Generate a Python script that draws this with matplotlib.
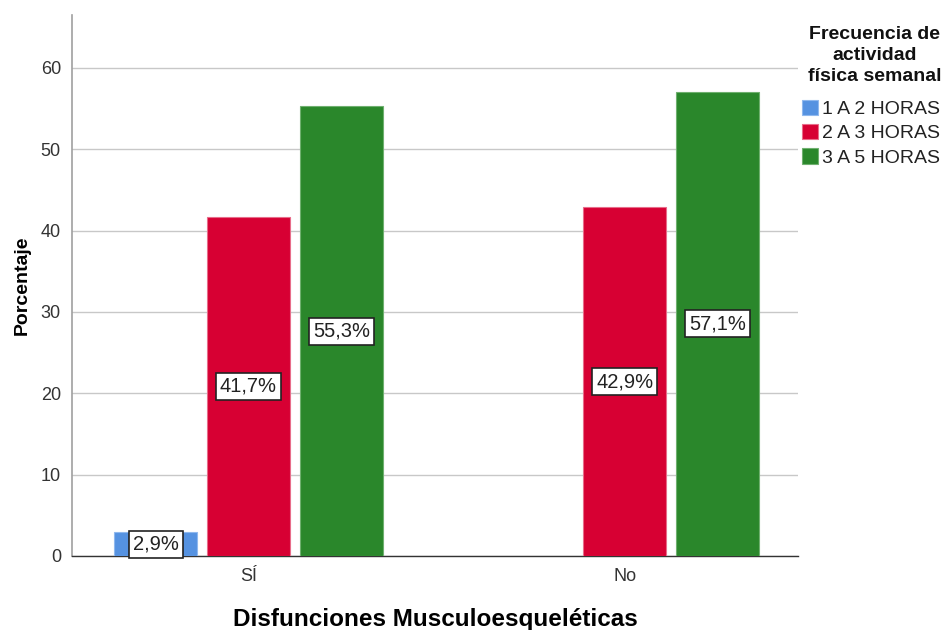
import matplotlib
matplotlib.use("Agg")
import matplotlib.pyplot as plt
from matplotlib.patches import Patch
import numpy as np

plt.rcParams['font.family'] = ['Liberation Sans', 'DejaVu Sans']

categories = ["SÍ", "No"]
series_names = ["1 A 2 HORAS", "2 A 3 HORAS", "3 A 5 HORAS"]
values = {
    "1 A 2 HORAS": [2.9, None],
    "2 A 3 HORAS": [41.7, 42.9],
    "3 A 5 HORAS": [55.3, 57.1],
}
legend_title = "Frecuencia de\nactividad\nfísica semanal"
colors = ["#5592e1", "#d70033", "#2a872b"]
edges = ["#8fb8ee", "#e86d8a", "#6fb06f"]

fig = plt.figure(figsize=(9.49, 6.30), dpi=100)
ax = fig.add_axes([0.0759, 0.1175, 0.765, 0.8585])

x = np.arange(len(categories))
step = 0.247
width = 0.221
for i, name in enumerate(series_names):
    for j, v in enumerate(values[name]):
        if v is None:
            continue
        xc = x[j] + (i - 1) * step
        ax.bar(xc, v, width=width, color=colors[i], edgecolor=edges[i],
               linewidth=0.8, zorder=3)
        ax.text(xc, v / 2, f"{v:.1f}%".replace(".", ","), ha="center", va="center",
                fontsize=14.5, color="#222222", zorder=4,
                bbox=dict(boxstyle="square,pad=0.2", fc="white", ec="#222222", lw=1.2))

ax.set_xlim(-0.469, 1.461)
ax.set_ylim(0, 66.5)
ax.set_yticks(range(0, 61, 10))
ax.set_xticks(x)
ax.set_xticklabels(categories)
ax.tick_params(axis="both", length=0, labelsize=13, colors="#333333", pad=8)
ax.tick_params(axis="x", pad=9)
ax.yaxis.grid(True, color="#c8c8c8", linewidth=1.0, zorder=0)
ax.set_axisbelow(True)
for s in ["top", "right"]:
    ax.spines[s].set_visible(False)
ax.spines["left"].set_color("#a0a0a0")
ax.spines["left"].set_linewidth(1.2)
ax.spines["bottom"].set_color("#333333")
ax.spines["bottom"].set_linewidth(1.0)

ax.set_ylabel("Porcentaje", fontsize=14, fontweight="bold", labelpad=7)
ax.set_xlabel("Disfunciones Musculoesqueléticas", fontsize=17.5, fontweight="bold", labelpad=16)

# legend title drawn separately so its line spacing and gap can be set
fig.text(0.922, 0.959, legend_title, ha="center", va="top", fontsize=14,
         fontweight="bold", linespacing=1.3, multialignment="center", color="#111111")

handles = [Patch(facecolor=c, edgecolor=e, linewidth=0.8) for c, e in zip(colors, edges)]
leg = fig.legend(handles, series_names, loc="upper left",
                 bbox_to_anchor=(0.845, 0.842), frameon=False,
                 fontsize=14, handlelength=0.85, handleheight=0.85, handletextpad=0.2,
                 labelspacing=0.3, borderaxespad=0, borderpad=0)
for t in leg.get_texts():
    t.set_color("#222222")

fig.savefig("out.png", dpi=100)
